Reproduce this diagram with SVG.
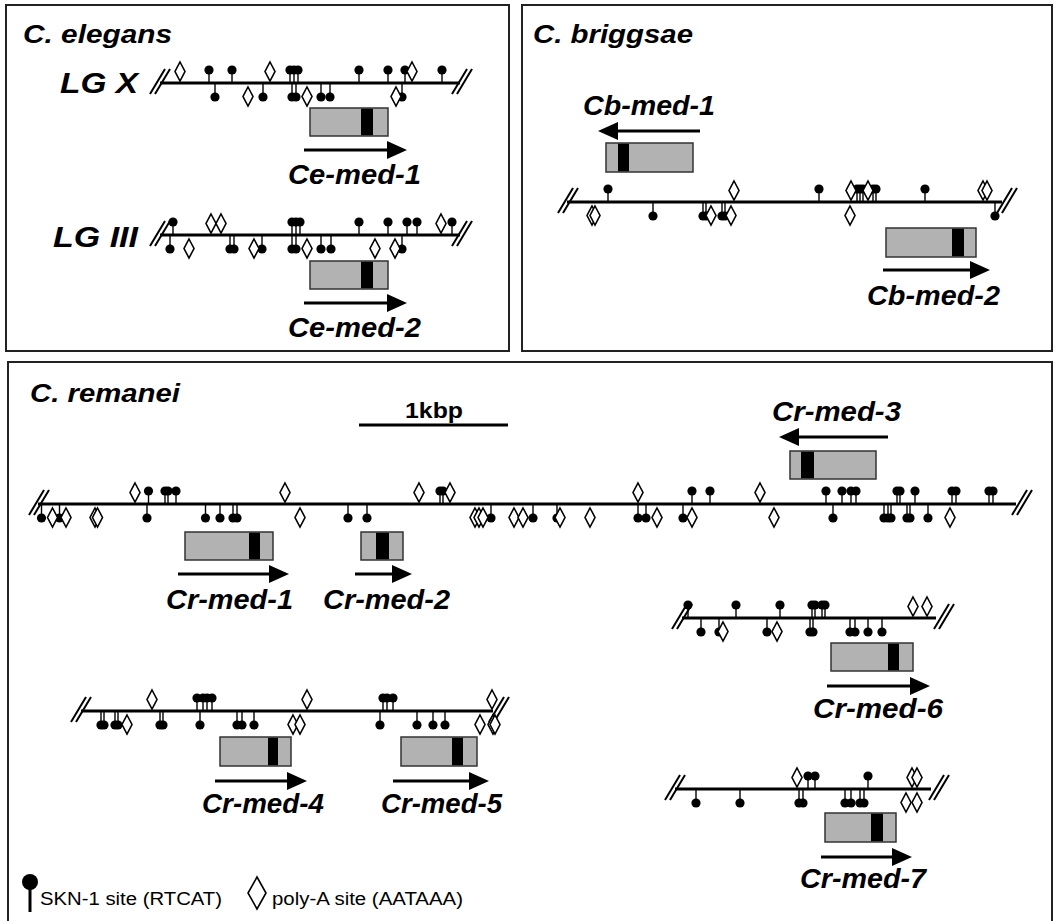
<svg xmlns="http://www.w3.org/2000/svg" width="1055" height="921" viewBox="0 0 1055 921">
<style>
.pn{fill:#fff;stroke:#222;stroke-width:2}
.ln{stroke:#000;stroke-width:3;fill:none}
.st{stroke:#000;stroke-width:1.4}
.dm{fill:#fff;stroke:#000;stroke-width:1.6}
.bx{fill:#b2b2b2;stroke:#333;stroke-width:1.5}
.bd{fill:#000}
.br{stroke:#000;stroke-width:2}
.ar{stroke:#000;stroke-width:3}
.lab{font-family:"Liberation Sans",Arial,sans-serif;font-weight:bold;font-style:italic;font-size:28px;fill:#000}
.ttl{font-family:"Liberation Sans",Arial,sans-serif;font-weight:bold;font-style:italic;font-size:25px;fill:#000}
.lg{font-family:"Liberation Sans",Arial,sans-serif;font-weight:bold;font-style:italic;font-size:29px;fill:#000}
.kb{font-family:"Liberation Sans",Arial,sans-serif;font-weight:bold;font-size:22px;fill:#000}
.leg{font-family:"Liberation Sans",Arial,sans-serif;font-size:18px;fill:#000}
</style>
<defs>
<g id="u"><line class="st" x1="0" y1="0" x2="0" y2="-13"/><circle cy="-13" r="4.6"/></g>
<g id="d"><line class="st" x1="0" y1="0" x2="0" y2="14"/><circle cy="14" r="4.6"/></g>
<path id="pu" class="dm" d="M0,-21 L5,-11.5 L0,-2 L-5,-11.5Z"/>
<path id="pd" class="dm" d="M0,4 L5,13.5 L0,23 L-5,13.5Z"/>
<g id="brk" class="br"><line x1="-8" y1="11" x2="7" y2="-14"/><line x1="-3" y1="11" x2="12" y2="-14"/></g>
</defs>

<g id="panels">
<rect class="pn" x="6" y="5" width="503" height="346"/>
<rect class="pn" x="522" y="5" width="530" height="346"/>
<rect class="pn" x="8" y="362" width="1044" height="575"/>
</g>

<g id="titles">
<text class="ttl" x="23" y="43" textLength="149" lengthAdjust="spacingAndGlyphs">C. elegans</text>
<text class="ttl" x="533" y="43" textLength="160" lengthAdjust="spacingAndGlyphs">C. briggsae</text>
<text class="ttl" x="30" y="402" textLength="150" lengthAdjust="spacingAndGlyphs">C. remanei</text>
<text class="lg" x="60" y="93" textLength="78" lengthAdjust="spacingAndGlyphs">LG X</text>
<text class="lg" x="53" y="247" textLength="85" lengthAdjust="spacingAndGlyphs">LG III</text>
</g>

<g id="scalebar">
<text class="kb" x="405" y="418" textLength="58" lengthAdjust="spacingAndGlyphs">1kbp</text>
<line class="ln" x1="359" y1="425" x2="508" y2="425"/>
</g>

<g id="lgx">
<line class="ln" x1="160" y1="83" x2="460" y2="83"/>
<use href="#brk" x="158" y="83"/><use href="#brk" x="460" y="83"/>
<use href="#u" x="209" y="83"/><use href="#u" x="232" y="83"/><use href="#u" x="290" y="83"/><use href="#u" x="294" y="83"/><use href="#u" x="298" y="83"/><use href="#u" x="359" y="83"/><use href="#u" x="388" y="83"/><use href="#u" x="405" y="83"/><use href="#u" x="442" y="83"/>
<use href="#d" x="215" y="83"/><use href="#d" x="263" y="83"/><use href="#d" x="292" y="83"/><use href="#d" x="296" y="83"/><use href="#d" x="321" y="83"/><use href="#d" x="330" y="83"/><use href="#d" x="402" y="83"/>
<use href="#pu" x="180" y="83"/><use href="#pu" x="270" y="83"/><use href="#pu" x="412" y="83"/>
<use href="#pd" x="248" y="83"/><use href="#pd" x="307" y="83"/><use href="#pd" x="396" y="83"/>
</g>

<g id="ce-med-1">
<rect class="bx" x="310" y="108" width="78" height="28"/><rect class="bd" x="361" y="108.75" width="12" height="26.5"/>
<line class="ar" x1="304" y1="150" x2="390" y2="150"/><polygon points="387,141 407,150 387,159"/>
<text class="lab" x="288" y="184" textLength="133" lengthAdjust="spacingAndGlyphs">Ce-med-1</text>
</g>

<g id="lgiii">
<line class="ln" x1="160" y1="235" x2="460" y2="235"/>
<use href="#brk" x="158" y="235"/><use href="#brk" x="460" y="235"/>
<use href="#u" x="173" y="235"/><use href="#u" x="292" y="235"/><use href="#u" x="296" y="235"/><use href="#u" x="300" y="235"/><use href="#u" x="359" y="235"/><use href="#u" x="388" y="235"/><use href="#u" x="407" y="235"/><use href="#u" x="417" y="235"/><use href="#u" x="452" y="235"/>
<use href="#d" x="170" y="235"/><use href="#d" x="230" y="235"/><use href="#d" x="234" y="235"/><use href="#d" x="262" y="235"/><use href="#d" x="292" y="235"/><use href="#d" x="296" y="235"/><use href="#d" x="321" y="235"/><use href="#d" x="331" y="235"/><use href="#d" x="402" y="235"/>
<use href="#pu" x="211" y="235"/><use href="#pu" x="221" y="235"/><use href="#pu" x="441" y="235"/>
<use href="#pd" x="189" y="235"/><use href="#pd" x="254" y="235"/><use href="#pd" x="307" y="235"/><use href="#pd" x="375" y="235"/><use href="#pd" x="395" y="235"/>
</g>

<g id="ce-med-2">
<rect class="bx" x="310" y="261" width="78" height="28"/><rect class="bd" x="361" y="261.75" width="12" height="26.5"/>
<line class="ar" x1="304" y1="303" x2="390" y2="303"/><polygon points="387,294 407,303 387,312"/>
<text class="lab" x="288" y="337" textLength="133" lengthAdjust="spacingAndGlyphs">Ce-med-2</text>
</g>

<g id="cb-line">
<line class="ln" x1="567" y1="202" x2="1002" y2="202"/>
<use href="#brk" x="566" y="202"/><use href="#brk" x="1005" y="202"/>
<use href="#u" x="608" y="202"/><use href="#u" x="819" y="202"/><use href="#u" x="857" y="202"/><use href="#u" x="860" y="202"/><use href="#u" x="863" y="202"/><use href="#u" x="873" y="202"/><use href="#u" x="876" y="202"/><use href="#u" x="925" y="202"/>
<use href="#d" x="653" y="202"/><use href="#d" x="703" y="202"/><use href="#d" x="706" y="202"/><use href="#d" x="722" y="202"/><use href="#d" x="725" y="202"/><use href="#d" x="995" y="202"/>
<use href="#pu" x="734" y="202"/><use href="#pu" x="851" y="202"/><use href="#pu" x="868" y="202"/><use href="#pu" x="983" y="202"/><use href="#pu" x="987" y="202"/>
<use href="#pd" x="592" y="202"/><use href="#pd" x="595" y="202"/><use href="#pd" x="711" y="202"/><use href="#pd" x="731" y="202"/><use href="#pd" x="850" y="202"/>
</g>

<g id="cb-med-1">
<text class="lab" x="583" y="115" textLength="132" lengthAdjust="spacingAndGlyphs">Cb-med-1</text>
<line class="ar" x1="700" y1="131" x2="615" y2="131"/><polygon points="618,122 598,131 618,140"/>
<rect class="bx" x="606" y="143" width="87" height="29"/><rect class="bd" x="618" y="143.75" width="11" height="27.5"/>
</g>

<g id="cb-med-2">
<rect class="bx" x="886" y="228" width="90" height="29"/><rect class="bd" x="952" y="228.75" width="12" height="27.5"/>
<line class="ar" x1="883" y1="270" x2="973" y2="270"/><polygon points="970,261 990,270 970,279"/>
<text class="lab" x="867" y="305" textLength="133" lengthAdjust="spacingAndGlyphs">Cb-med-2</text>
</g>

<g id="cr-main">
<line class="ln" x1="38" y1="504" x2="1016" y2="504"/>
<use href="#brk" x="37" y="504"/><use href="#brk" x="1020" y="504"/>
<use href="#u" x="148.5" y="504"/><use href="#u" x="165" y="504"/><use href="#u" x="168" y="504"/><use href="#u" x="176" y="504"/><use href="#u" x="440" y="504"/><use href="#u" x="443" y="504"/><use href="#u" x="692" y="504"/><use href="#u" x="710" y="504"/><use href="#u" x="826" y="504"/><use href="#u" x="842" y="504"/><use href="#u" x="851" y="504"/><use href="#u" x="856" y="504"/><use href="#u" x="897" y="504"/><use href="#u" x="900" y="504"/><use href="#u" x="915" y="504"/><use href="#u" x="952" y="504"/><use href="#u" x="956" y="504"/><use href="#u" x="989" y="504"/><use href="#u" x="993" y="504"/>
<use href="#d" x="41.5" y="504"/><use href="#d" x="59.5" y="504"/><use href="#d" x="147" y="504"/><use href="#d" x="205.5" y="504"/><use href="#d" x="220" y="504"/><use href="#d" x="233" y="504"/><use href="#d" x="237" y="504"/><use href="#d" x="348" y="504"/><use href="#d" x="367" y="504"/><use href="#d" x="491" y="504"/><use href="#d" x="533" y="504"/><use href="#d" x="557" y="504"/><use href="#d" x="638" y="504"/><use href="#d" x="646" y="504"/><use href="#d" x="683" y="504"/><use href="#d" x="833" y="504"/><use href="#d" x="884" y="504"/><use href="#d" x="888" y="504"/><use href="#d" x="891" y="504"/><use href="#d" x="907" y="504"/><use href="#d" x="910" y="504"/><use href="#d" x="928" y="504"/>
<use href="#pu" x="135" y="504"/><use href="#pu" x="285" y="504"/><use href="#pu" x="419" y="504"/><use href="#pu" x="450" y="504"/><use href="#pu" x="638" y="504"/><use href="#pu" x="760" y="504"/>
<use href="#pd" x="52.5" y="504"/><use href="#pd" x="66" y="504"/><use href="#pd" x="95" y="504"/><use href="#pd" x="97.5" y="504"/><use href="#pd" x="300" y="504"/><use href="#pd" x="475" y="504"/><use href="#pd" x="479" y="504"/><use href="#pd" x="483" y="504"/><use href="#pd" x="514" y="504"/><use href="#pd" x="523" y="504"/><use href="#pd" x="560" y="504"/><use href="#pd" x="590" y="504"/><use href="#pd" x="657" y="504"/><use href="#pd" x="692" y="504"/><use href="#pd" x="774" y="504"/><use href="#pd" x="950" y="504"/>
</g>

<g id="cr-med-1">
<rect class="bx" x="185" y="532" width="88" height="28"/><rect class="bd" x="249" y="532.75" width="11" height="26.5"/>
<line class="ar" x1="178" y1="574" x2="272" y2="574"/><polygon points="269,565 289,574 269,583"/>
<text class="lab" x="166" y="609" textLength="127" lengthAdjust="spacingAndGlyphs">Cr-med-1</text>
</g>

<g id="cr-med-2">
<rect class="bx" x="361" y="532" width="42" height="28"/><rect class="bd" x="376" y="532.75" width="13" height="26.5"/>
<line class="ar" x1="355" y1="574" x2="395" y2="574"/><polygon points="392,565 412,574 392,583"/>
<text class="lab" x="323" y="609" textLength="127" lengthAdjust="spacingAndGlyphs">Cr-med-2</text>
</g>

<g id="cr-med-3">
<text class="lab" x="772" y="421" textLength="129" lengthAdjust="spacingAndGlyphs">Cr-med-3</text>
<line class="ar" x1="888" y1="437" x2="796" y2="437"/><polygon points="799,428 779,437 799,446"/>
<rect class="bx" x="790" y="451" width="86" height="28"/><rect class="bd" x="801" y="451.75" width="13" height="26.5"/>
</g>

<g id="cr-45-line">
<line class="ln" x1="81" y1="711" x2="493" y2="711"/>
<use href="#brk" x="79" y="711"/><use href="#brk" x="497" y="711"/>
<use href="#u" x="197" y="711"/><use href="#u" x="203" y="711"/><use href="#u" x="207" y="711"/><use href="#u" x="212" y="711"/><use href="#u" x="383" y="711"/><use href="#u" x="387" y="711"/><use href="#u" x="393" y="711"/>
<use href="#d" x="101" y="711"/><use href="#d" x="104" y="711"/><use href="#d" x="115" y="711"/><use href="#d" x="118" y="711"/><use href="#d" x="160" y="711"/><use href="#d" x="163" y="711"/><use href="#d" x="200" y="711"/><use href="#d" x="237" y="711"/><use href="#d" x="242" y="711"/><use href="#d" x="254" y="711"/><use href="#d" x="380" y="711"/><use href="#d" x="417" y="711"/><use href="#d" x="433" y="711"/><use href="#d" x="445" y="711"/>
<use href="#pu" x="152" y="711"/><use href="#pu" x="307" y="711"/><use href="#pu" x="492" y="711"/>
<use href="#pd" x="127" y="711"/><use href="#pd" x="293" y="711"/><use href="#pd" x="300" y="711"/><use href="#pd" x="480" y="711"/><use href="#pd" x="493" y="711"/><use href="#pd" x="495" y="711"/>
</g>

<g id="cr-med-4">
<rect class="bx" x="220" y="737" width="71" height="29"/><rect class="bd" x="268" y="737.75" width="10" height="27.5"/>
<line class="ar" x1="215" y1="781" x2="290" y2="781"/><polygon points="287,772 307,781 287,790"/>
<text class="lab" x="202" y="813" textLength="122" lengthAdjust="spacingAndGlyphs">Cr-med-4</text>
</g>

<g id="cr-med-5">
<rect class="bx" x="401" y="737" width="76" height="29"/><rect class="bd" x="452" y="737.75" width="11" height="27.5"/>
<line class="ar" x1="393" y1="781" x2="472" y2="781"/><polygon points="469,772 489,781 469,790"/>
<text class="lab" x="381" y="813" textLength="121" lengthAdjust="spacingAndGlyphs">Cr-med-5</text>
</g>

<g id="cr-6-line">
<line class="ln" x1="682" y1="618" x2="936" y2="618"/>
<use href="#brk" x="680" y="618"/><use href="#brk" x="942" y="618"/>
<use href="#u" x="688" y="618"/><use href="#u" x="736" y="618"/><use href="#u" x="780" y="618"/><use href="#u" x="812" y="618"/><use href="#u" x="815" y="618"/><use href="#u" x="822" y="618"/><use href="#u" x="825" y="618"/>
<use href="#d" x="701" y="618"/><use href="#d" x="719" y="618"/><use href="#d" x="767" y="618"/><use href="#d" x="810" y="618"/><use href="#d" x="813" y="618"/><use href="#d" x="850" y="618"/><use href="#d" x="855" y="618"/><use href="#d" x="868" y="618"/><use href="#d" x="882" y="618"/>
<use href="#pu" x="913" y="618"/><use href="#pu" x="927" y="618"/>
<use href="#pd" x="723" y="618"/><use href="#pd" x="777" y="618"/>
</g>

<g id="cr-med-6">
<rect class="bx" x="831" y="643" width="82" height="28"/><rect class="bd" x="888" y="643.75" width="11" height="26.5"/>
<line class="ar" x1="827" y1="686" x2="913" y2="686"/><polygon points="910,677 930,686 910,695"/>
<text class="lab" x="813" y="718" textLength="130" lengthAdjust="spacingAndGlyphs">Cr-med-6</text>
</g>

<g id="cr-7-line">
<line class="ln" x1="675" y1="789" x2="931" y2="789"/>
<use href="#brk" x="673" y="789"/><use href="#brk" x="937" y="789"/>
<use href="#u" x="808" y="789"/><use href="#u" x="815" y="789"/><use href="#u" x="868" y="789"/>
<use href="#d" x="696" y="789"/><use href="#d" x="740" y="789"/><use href="#d" x="799" y="789"/><use href="#d" x="803" y="789"/><use href="#d" x="845" y="789"/><use href="#d" x="851" y="789"/><use href="#d" x="860" y="789"/><use href="#d" x="864" y="789"/>
<use href="#pu" x="797" y="789"/><use href="#pu" x="912" y="789"/><use href="#pu" x="917" y="789"/>
<use href="#pd" x="906" y="789"/><use href="#pd" x="917" y="789"/>
</g>

<g id="cr-med-7">
<rect class="bx" x="825" y="813" width="71" height="29"/><rect class="bd" x="871" y="813.75" width="12" height="27.5"/>
<line class="ar" x1="821" y1="857" x2="895" y2="857"/><polygon points="892,848 912,857 892,866"/>
<text class="lab" x="800" y="888" textLength="126" lengthAdjust="spacingAndGlyphs">Cr-med-7</text>
</g>

<g id="legend">
<line x1="30" y1="882" x2="30" y2="912" stroke="#000" stroke-width="3"/>
<circle cx="30" cy="882" r="8"/>
<text class="leg" x="40" y="905" textLength="182" lengthAdjust="spacingAndGlyphs">SKN-1 site (RTCAT)</text>
<path class="dm" d="M257,877 L266,893 L257,909 L248,893Z" stroke-width="2"/>
<text class="leg" x="272" y="905" textLength="191" lengthAdjust="spacingAndGlyphs">poly-A site (AATAAA)</text>
</g>
</svg>
